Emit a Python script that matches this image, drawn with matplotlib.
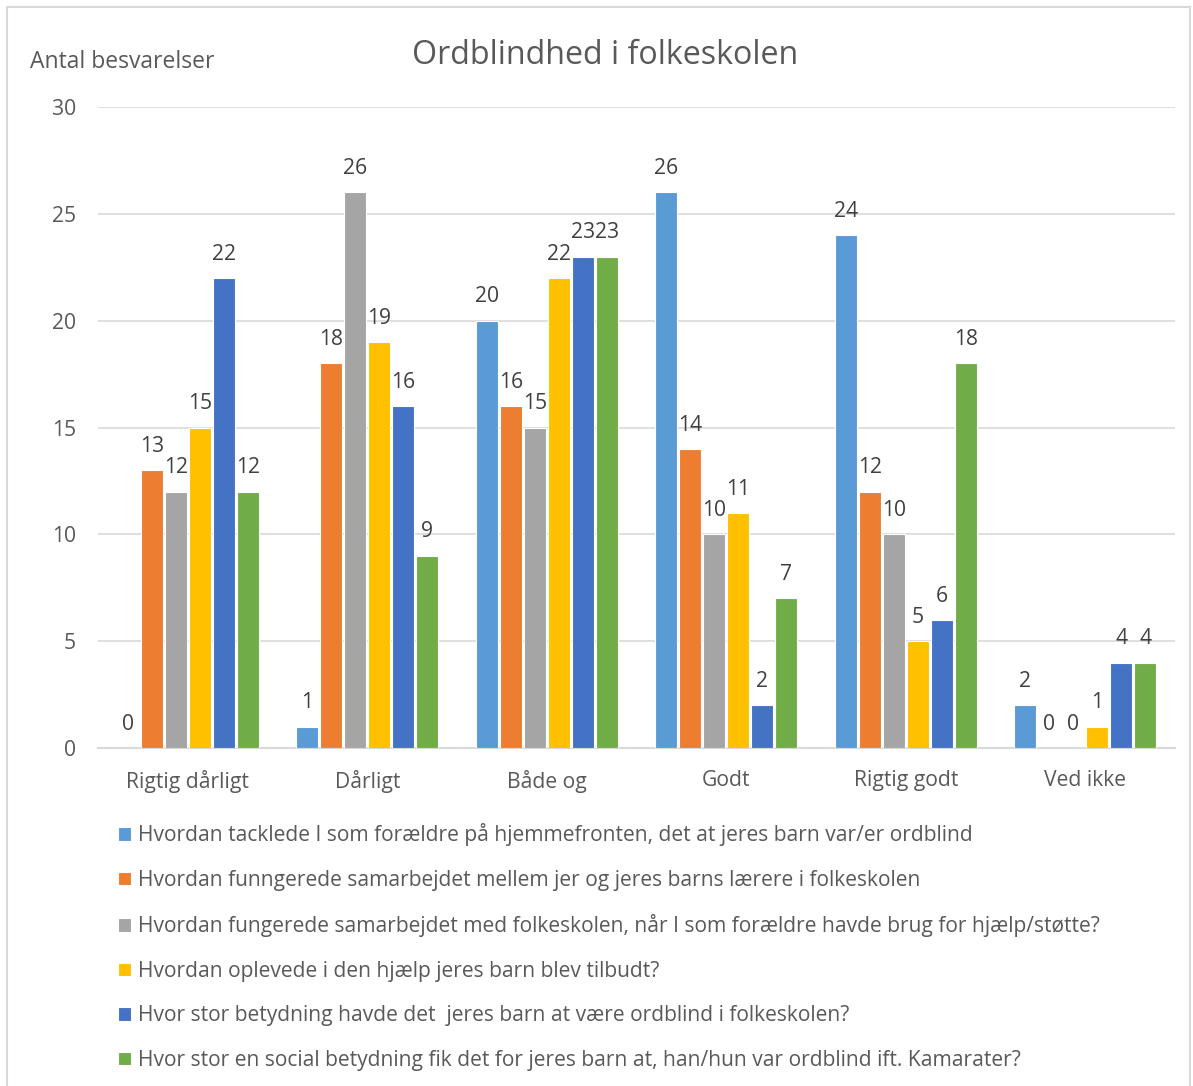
import numpy as np
import matplotlib.pyplot as plt
from matplotlib.patches import Rectangle

plt.rcParams['font.family'] = ['Open Sans', 'DejaVu Sans']

# categories on the x axis
categories = ['Rigtig dårligt', 'Dårligt', 'Både og', 'Godt', 'Rigtig godt', 'Ved ikke']

# one list per question (series)
series_labels = [
    'Hvordan tacklede I som forældre på hjemmefronten, det at jeres barn var/er ordblind',
    'Hvordan funngerede samarbejdet mellem jer og jeres barns lærere i folkeskolen',
    'Hvordan fungerede samarbejdet med folkeskolen, når I som forældre havde brug for hjælp/støtte?',
    'Hvordan oplevede i den hjælp jeres barn blev tilbudt?',
    'Hvor stor betydning havde det  jeres barn at være ordblind i folkeskolen?',
    'Hvor stor en social betydning fik det for jeres barn at, han/hun var ordblind ift. Kamarater?',
]
tacklede = [0, 1, 20, 26, 24, 2]
samarbejde_laerere = [13, 18, 16, 14, 12, 0]
samarbejde_skole = [12, 26, 15, 10, 10, 0]
hjaelp = [15, 19, 22, 11, 5, 1]
betydning = [22, 16, 23, 2, 6, 4]
social = [12, 9, 23, 7, 18, 4]
all_series = [tacklede, samarbejde_laerere, samarbejde_skole, hjaelp, betydning, social]

colors = ['#5B9BD5', '#ED7D31', '#A5A5A5', '#FFC000', '#4472C4', '#70AD47']
text_color = '#595959'

fig = plt.figure(figsize=(11.93, 10.86), dpi=100)
ax = fig.add_axes([98 / 1193, 1 - 748 / 1086, 1077 / 1193, 641 / 1086])

x = np.arange(len(categories))
step = 0.1337
width = 0.122
handles = []
for i, (vals, c) in enumerate(zip(all_series, colors)):
    offs = (i - 2.5) * step
    bars = ax.bar(x + offs, vals, width=width, color=c, edgecolor='white', linewidth=0.8, zorder=3)
    handles.append(bars)
    for xi, v in zip(x, vals):
        ax.text(xi + offs, v + 0.62, str(v), ha='center', va='bottom', fontsize=15.2, color='#404040')

ax.set_xlim(-0.5, len(categories) - 0.5)
ax.set_ylim(0, 30)
ax.set_yticks(range(0, 31, 5))
ax.set_xticks(x)
ax.set_xticklabels(categories)
ax.tick_params(axis='both', length=0, labelsize=15.2, colors=text_color)
ax.tick_params(axis='x', pad=16)
ax.tick_params(axis='y', pad=16)
ax.grid(axis='y', color='#D9D9D9', linewidth=1.2, zorder=0)
for s in ['top', 'right', 'left']:
    ax.spines[s].set_visible(False)
ax.spines['bottom'].set_color('#D9D9D9')
ax.spines['bottom'].set_linewidth(1.5)

fig.text(605 / 1193, 1 - 55 / 1086, 'Ordblindhed i folkeskolen', ha='center', va='center',
         fontsize=23.2, color=text_color)
fig.text(30 / 1193, 1 - 62 / 1086, 'Antal besvarelser', ha='left', va='center',
         fontsize=16.5, color=text_color)

fig.legend(handles, series_labels, loc='upper left', bbox_to_anchor=(110 / 1193, 1 - 815 / 1086),
           frameon=False, fontsize=15.1, labelcolor=text_color, handlelength=0.6,
           handleheight=0.6, handletextpad=0.35, labelspacing=1.12, borderaxespad=0)

# light outer frame (bottom edge falls outside the picture)
fig.patches.append(Rectangle((7 / 1193, -0.01), 1183 / 1193, 1.01 - 7 / 1086, transform=fig.transFigure,
                             fill=False, edgecolor='#D9D9D9', linewidth=1.5))

fig.savefig('out.png', dpi=100)
